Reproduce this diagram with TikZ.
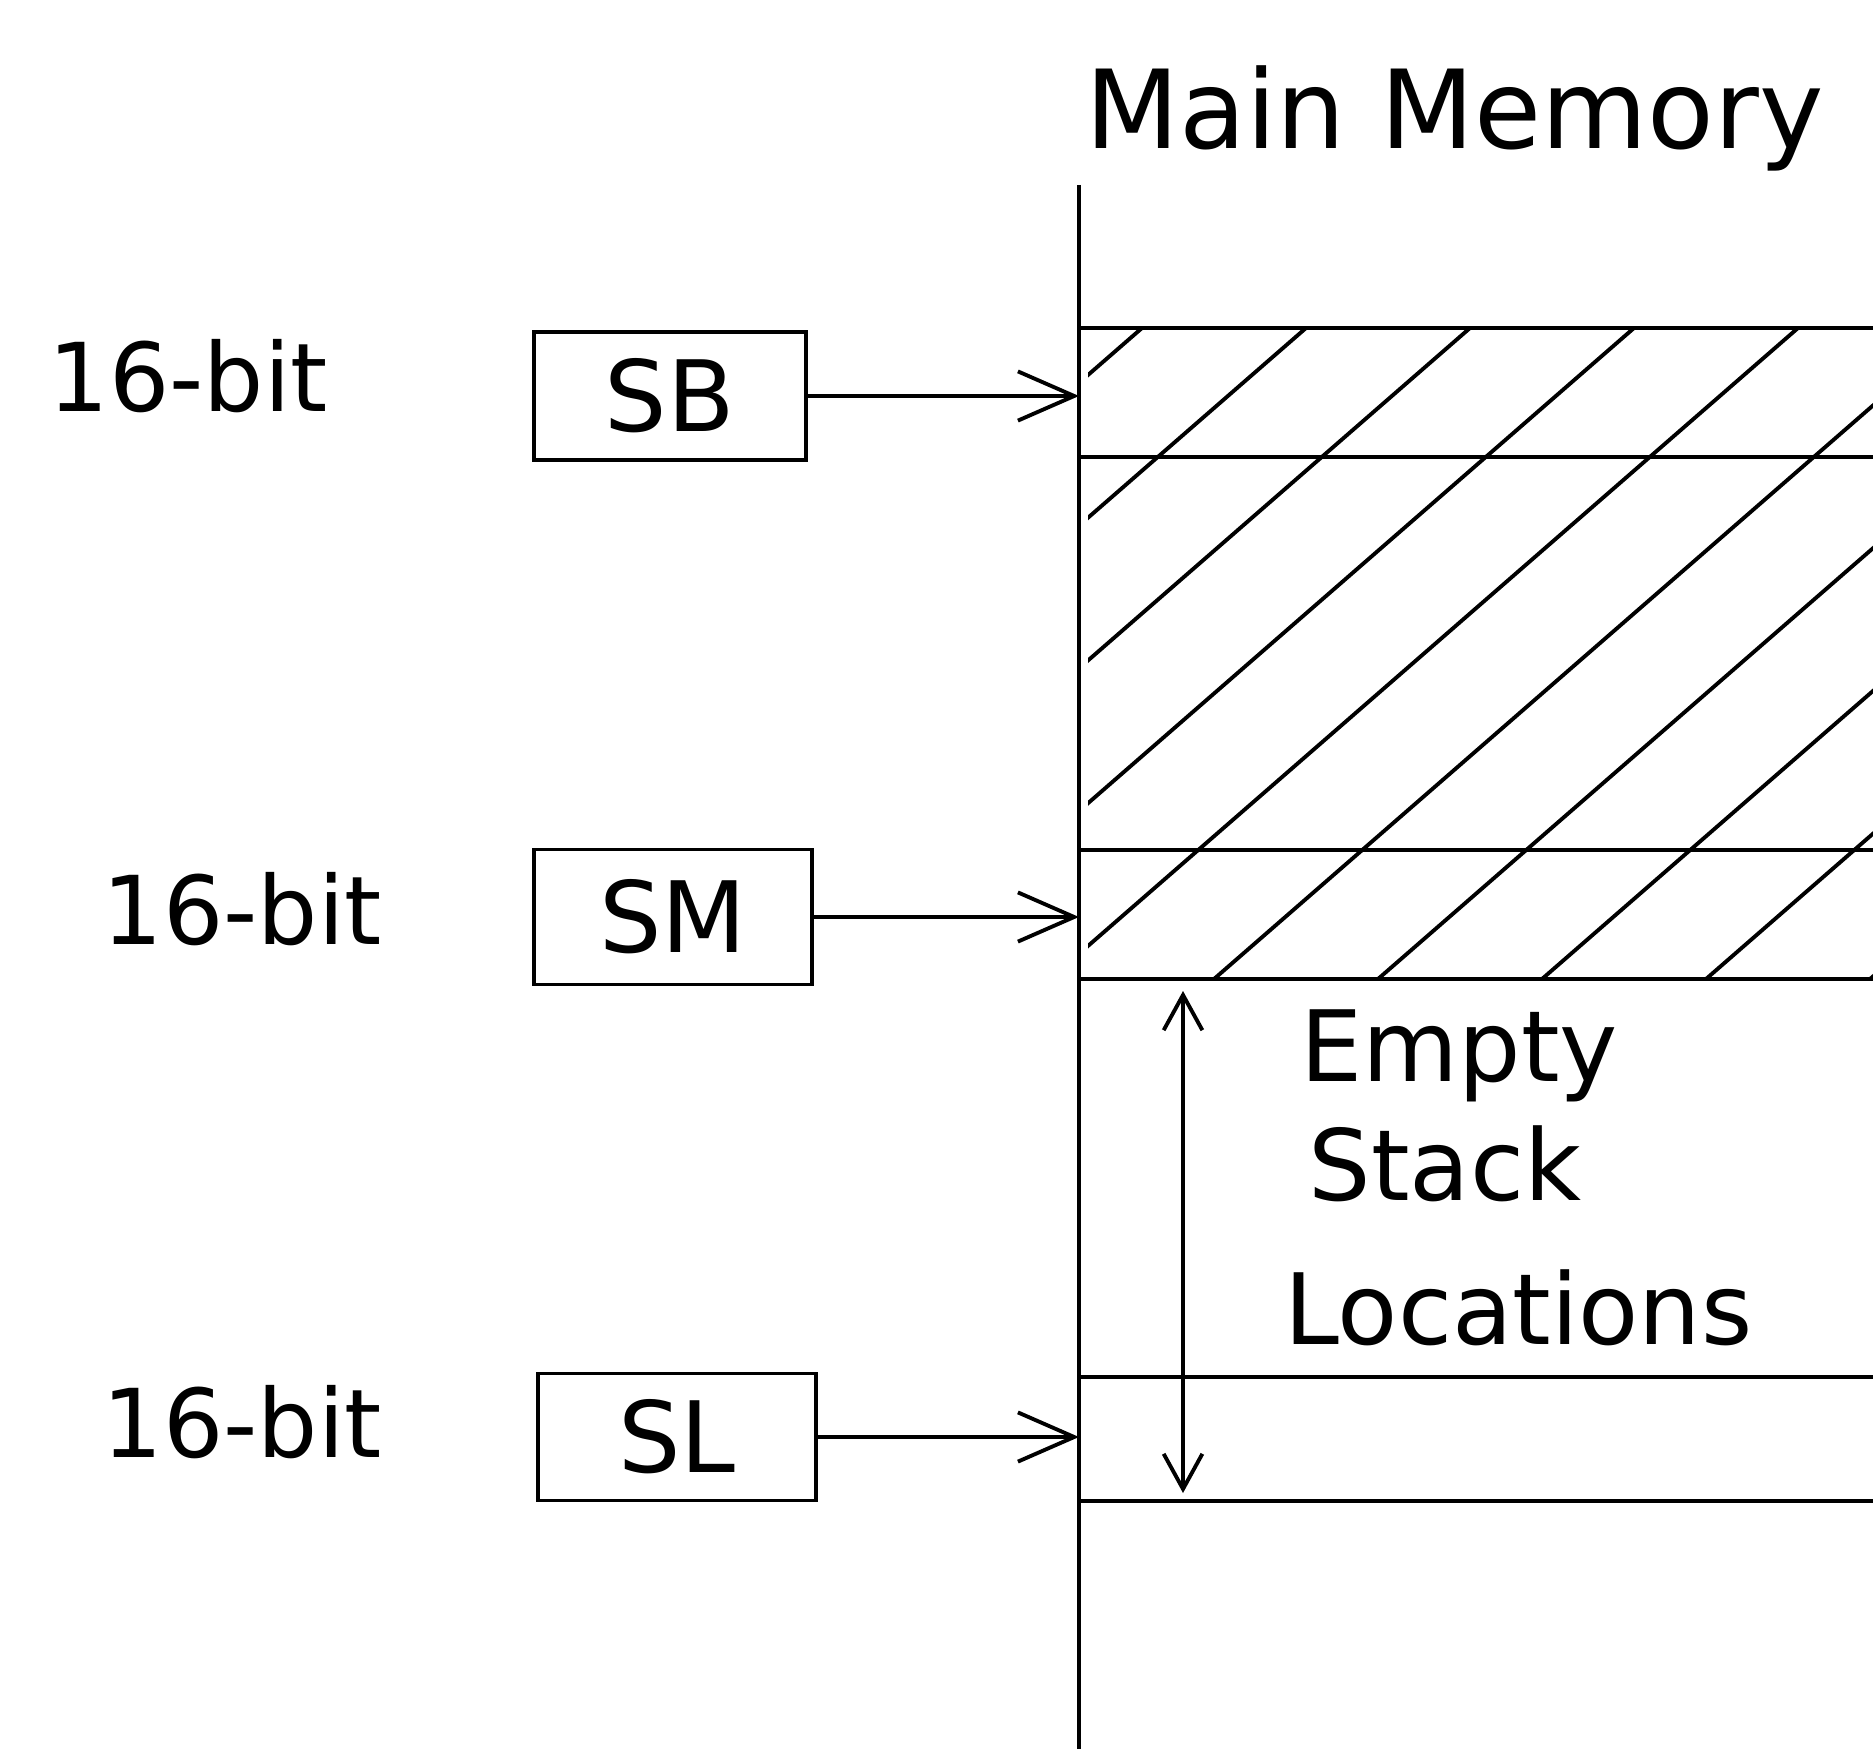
\documentclass[tikz,border=0pt]{standalone}
\usepackage{fontspec}
\setmainfont{DejaVu Sans}
\usetikzlibrary{arrows.meta}
\begin{document}
\begin{tikzpicture}[x=0.01cm,y=-0.01cm,
  ln/.style={line width=1.1pt,black},
  reg/.style={draw,line width=1.1pt,minimum width=2.75cm,minimum height=1.28cm,inner sep=0pt,font=\fontsize{28}{32}\selectfont},
  lbl/.style={anchor=base west,inner sep=0pt,font=\fontsize{27}{32}\selectfont},
  arr/.style={ln,-{Straight Barb[length=16pt,width=14pt,line width=1.1pt]}},
  darr/.style={ln,{Straight Barb[length=10pt,width=11pt,line width=1.1pt]}-{Straight Barb[length=10pt,width=11pt,line width=1.1pt]}}]
\useasboundingbox (0,0) rectangle (1873,1749);
\fill[white] (0,0) rectangle (1873,1749);
% title
\node[anchor=base west,inner sep=0pt,font=\fontsize{31}{36}\selectfont] (title) at (1085,149) {Main Memory};
% memory column
\coordinate (memtop) at (1079,185);
\coordinate (membot) at (1079,1749);
\draw[ln] (memtop) -- (membot);
\foreach \yy/\nm in {328/h1,457/h2,850/h3,979/h4,1377/h5,1501/h6}{
  \coordinate (\nm) at (1079,\yy);
  \draw[ln] (\nm) -- (1873,\yy);
}
% hatching
\begin{scope}
  \clip (1088,328) rectangle (1873,979);
  \foreach \k in {-1,...,8}{
    \pgfmathsetmacro\c{1683+164*\k}
    \draw[ln] ({\c-377},328) -- ({\c-1125},979);
  }
\end{scope}
% registers
\node[reg,minimum width=2.72cm] (sb) at (670,396) {SB};
\node[reg,minimum width=2.77cm,minimum height=1.35cm] (sm) at (673,917) {SM};
\node[reg,minimum width=2.78cm,minimum height=1.27cm] (sl) at (677,1437) {SL};
\node[lbl] (b1) at (48,412) {16-bit};
\node[lbl] (b2) at (102,944) {16-bit};
\node[lbl] (b3) at (102,1457) {16-bit};
\draw[arr] (sb.east) -- (sb.east -| memtop);
\draw[arr] (sm.east) -- (sm.east -| memtop);
\draw[arr] (sl.east) -- (sl.east -| memtop);
% empty stack
\coordinate (et) at (1183,991);
\coordinate (eb) at (1183,1493);
\draw[darr] (et) -- (eb);
\node[lbl,font=\fontsize{28}{32}\selectfont] (e1) at (1300,1081) {Empty};
\node[lbl,font=\fontsize{28}{32}\selectfont] (e2) at (1308,1200) {Stack};
\node[lbl,font=\fontsize{28}{32}\selectfont] (e3) at (1284,1344) {Locations};
\end{tikzpicture}
\end{document}
